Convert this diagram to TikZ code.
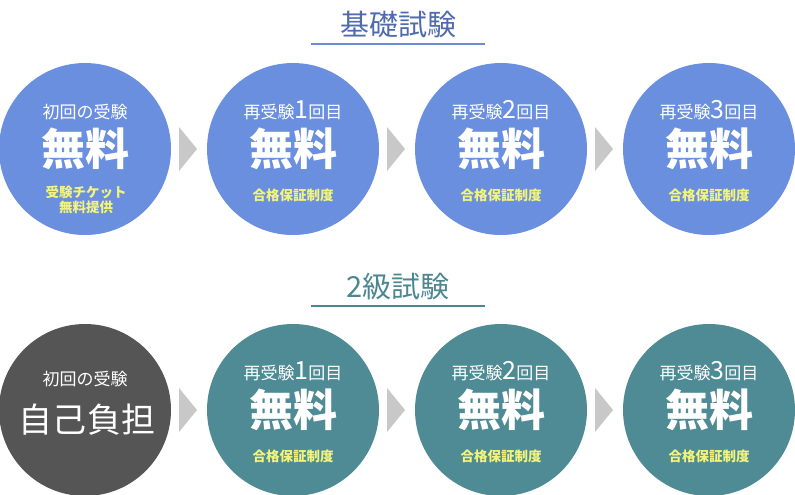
\documentclass[tikz,border=0pt]{standalone}
\usepackage{fontspec}
\setmainfont{Noto Sans CJK JP}
\definecolor{cblue}{HTML}{6A8FDE}
\definecolor{cteal}{HTML}{4E8B94}
\definecolor{cdark}{HTML}{555555}
\definecolor{tblue}{HTML}{4F6AAE}
\definecolor{lblue}{HTML}{6D8CD6}
\definecolor{tteal}{HTML}{4A8790}
\definecolor{cyel}{HTML}{F4F47A}
\definecolor{cgray}{HTML}{C8C8C8}
\begin{document}
\begin{tikzpicture}[x=1pt,y=-1pt,
  disc/.style={circle,minimum size=172pt,inner sep=0pt},
  small/.style={text=white,font=\fontsize{17}{17}\selectfont},
  big/.style={text=white,font=\fontsize{44}{44}\selectfont\bfseries},
  note/.style={text=cyel,font=\fontsize{13.5}{15}\selectfont\bfseries,align=center},
  ttl/.style={font=\fontsize{29}{29}\selectfont}]
\useasboundingbox (0,0) rectangle (795,495);
% titles
\node[ttl,text=tblue] (t1) at (398,25) {基礎試験};
\draw[lblue,line width=1.2pt] (311,44) coordinate (t1a) -- (485,44) coordinate (t1b);
\node[ttl,text=tteal] (t2) at (398,287) {2級試験};
\draw[tteal,line width=1.2pt] (311,306) coordinate (t2a) -- (485,306) coordinate (t2b);
% circles
\foreach \i/\x in {1/85,2/293,3/501,4/709}{
  \node[disc,fill=cblue] (a\i) at (\x,149) {};
}
\foreach \i/\x in {2/293,3/501,4/709}{
  \node[disc,fill=cteal] (b\i) at (\x,410) {};
}
\node[disc,fill=cdark] (b1) at (85,410) {};
% chevrons
\foreach \x in {179,387,595}{
  \fill[cgray] (\x,127) -- (\x+18,149) -- (\x,171) -- cycle;
  \fill[cgray] (\x,388) -- (\x+18,410) -- (\x,432) -- cycle;
}
% top texts
\node[small] (a1s) at (85,112) {初回の受験};
\node[big] (a1b) at (85,149) {無料};
\node[note] (a1n) at (86,200) {受験チケット\\無料提供};
\foreach \i/\x/\n in {2/293,3/501,4/709}{}
\foreach \i/\x/\n in {2/293/1,3/501/2,4/709/3}{
  \node[small] (a\i s) at (\x,110) {再受験{\fontsize{25}{25}\selectfont\n}回目};
  \node[big] (a\i b) at (\x,149) {無料};
  \node[note] (a\i n) at (\x,195) {合格保証制度};
  \node[small] (b\i s) at (\x,371) {再受験{\fontsize{25}{25}\selectfont\n}回目};
  \node[big] (b\i b) at (\x,410) {無料};
  \node[note] (b\i n) at (\x,456) {合格保証制度};
}
\node[small] (b1s) at (85,379) {初回の受験};
\node[text=white,font=\fontsize{34}{34}\selectfont] (b1b) at (87,420) {自己負担};
\end{tikzpicture}
\end{document}
